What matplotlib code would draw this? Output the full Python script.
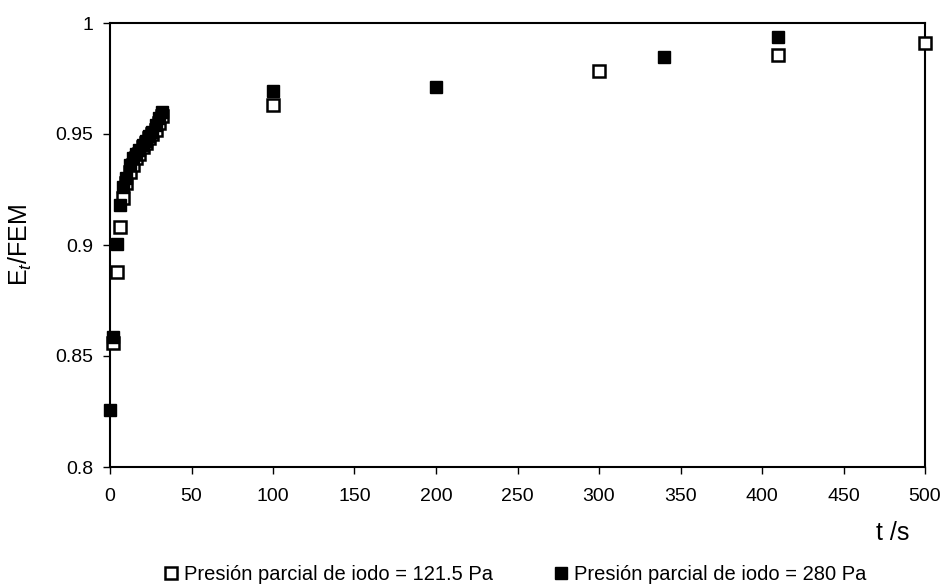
import matplotlib
matplotlib.use("Agg")
import matplotlib.pyplot as plt

plt.rcParams['font.family'] = ['Liberation Sans', 'DejaVu Sans']
plt.rcParams['mathtext.fontset'] = 'custom'
plt.rcParams['mathtext.rm'] = 'Liberation Sans'
plt.rcParams['mathtext.it'] = 'Liberation Sans:italic'

# Presión parcial de iodo = 121.5 Pa (cuadros abiertos)
t_121 = [2, 4, 6, 8, 10, 12, 14, 16, 18, 20, 22, 24, 26, 28, 30, 32, 100, 300, 410, 500]
e_121 = [0.856, 0.888, 0.908, 0.921, 0.928, 0.933, 0.936, 0.939, 0.941, 0.944,
         0.946, 0.948, 0.950, 0.952, 0.955, 0.958, 0.963, 0.9785, 0.9856, 0.991]

# Presión parcial de iodo = 280 Pa (cuadros llenos)
t_280 = [0, 2, 4, 6, 8, 10, 12, 14, 16, 18, 20, 22, 24, 26, 28, 30, 32, 100, 200, 340, 410]
e_280 = [0.8257, 0.8584, 0.9005, 0.918, 0.926, 0.930, 0.936, 0.939, 0.941, 0.943,
         0.945, 0.947, 0.949, 0.951, 0.954, 0.957, 0.960, 0.9695, 0.9713, 0.9848, 0.9937]

x_ticks = [0, 50, 100, 150, 200, 250, 300, 350, 400, 450, 500]
y_ticks = [0.8, 0.85, 0.9, 0.95, 1]
y_labels = ['0.8', '0.85', '0.9', '0.95', '1']

fig = plt.figure(figsize=(9.45, 5.88), dpi=100)
ax = fig.add_axes([110 / 945, 1 - 467 / 588, 815 / 945, 444 / 588])

ax.plot(t_121, e_121, linestyle='none', marker='s', markersize=8.8,
        markerfacecolor='white', markeredgecolor='black', markeredgewidth=1.8,
        label='Presión parcial de iodo = 121.5 Pa', clip_on=False, zorder=3)
ax.plot(t_280, e_280, linestyle='none', marker='s', markersize=8.8,
        markerfacecolor='black', markeredgecolor='black', markeredgewidth=1.0,
        label='Presión parcial de iodo = 280 Pa', clip_on=False, zorder=4)

ax.set_xlim(0, 500)
ax.set_ylim(0.8, 1)
ax.set_xticks(x_ticks)
ax.set_yticks(y_ticks)
ax.set_yticklabels(y_labels)
ax.tick_params(direction='out', length=5, width=1, labelsize=14)
ax.tick_params(axis='x', pad=10)
ax.tick_params(axis='y', pad=7)
for s in ax.spines.values():
    s.set_linewidth(1.5)

fig.text(20 / 945, 1 - 245 / 588, 'E$_t$/FEM', fontsize=18, rotation=90,
         ha='center', va='center')
fig.text(893 / 945, 1 - 533 / 588, 't /s', fontsize=18, ha='center', va='center')

fig.legend(loc='center', bbox_to_anchor=(515 / 945, 1 - 575 / 588), ncol=2,
           frameon=False, fontsize=14.5, handlelength=0.7, handletextpad=0.3,
           columnspacing=3.0, markerscale=0.95)

fig.savefig('out.png', dpi=100)
